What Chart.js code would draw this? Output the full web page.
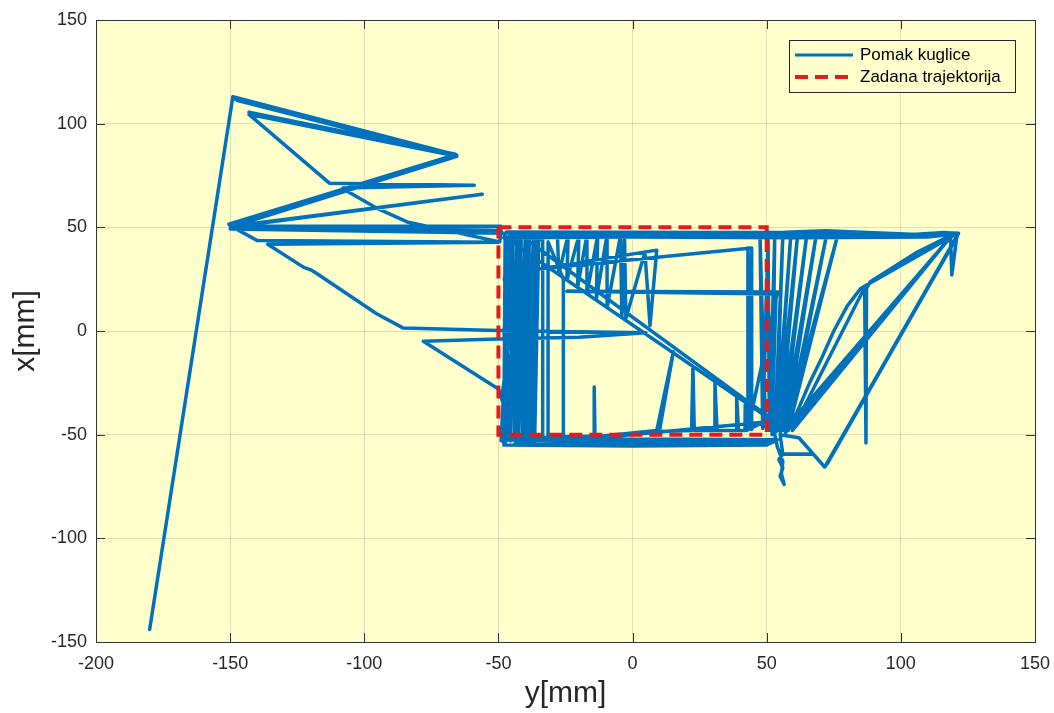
<!DOCTYPE html>
<html>
<head>
<meta charset="utf-8">
<title>Pomak kuglice</title>
<script src="https://cdn.jsdelivr.net/npm/chart.js@4.4.1/dist/chart.umd.min.js"></script>
<style>
  html, body { margin: 0; padding: 0; background: #fff; }
  canvas { display: block; }
</style>
</head>
<body>
<canvas id="plot" width="1054" height="713"></canvas>
<script>
// ----- DATA -----
const xTicks = [-200, -150, -100, -50, 0, 50, 100, 150];   // horizontal axis, y[mm]
const yTicks = [-150, -100, -50, 0, 50, 100, 150];          // vertical axis, x[mm]
const seriesNames = ['Pomak kuglice', 'Zadana trajektorija'];

// reference square, [y, x] in mm
const targetPath = [[-50, 50], [50, 50], [50, -50], [-50, -50], [-50, 50]];

const ballPath = [
  // launch and upper-left zigzags
  [-180,-144],[-149,113],[-66,85],[-148.5,112],[-66,84.3],[-147.5,111.3],[-65.5,84.8],
  [-143,105.5],[-66,85.3],[-142,104.5],[-65.8,84.4],[-143,104.5],
  [-113,71.3],[-59,70.3],[-108,69],[-106.5,67.5],[-95,59],[-84,52.6],[-49.5,43],
  [-49,48.5],[-150,50.5],[-66,85],[-150.5,51.5],[-65.5,84.2],[-149.5,50.2],[-56,66],
  [-149,50.6],[-49,50.5],[-150,49.2],[-48,47.2],[-150,50.8],[-140,43.7],[-50,42.8],
  [-136,41.8],[-122.7,30.8],[-120,29.5],[-118,28],[-95.4,8.3],[-85.6,1.5],[-50,0.3],
  [5,-0.8],[-20,-3],[-50,-3.8],[-78,-4.9],[-75.5,-7],[-50,-28],[-47.5,-38],[-48.5,-52.5],
  // left edge of the square
  [-46,46],[-47,30],[-45.5,18],[-47.5,5],[-46.5,-15],[-48,-52],[-44.5,46.5],[-45.5,-53],
  [-43,46],[-44,-52],[-41.5,46.5],[-42.5,-53.5],[-40,46],[-41,-52.5],[-38.5,45.5],
  [-39.5,-54],[-37,45],[-38,-53],[-46.5,40],[-47,-20],[-48,-54],
  [-47.5,44],[-46.5,35],[-47.8,25],[-46,12],[-48,0],[-47,-15],[-48.5,-30],[-47.5,-45],[-49,-53],
  [-45,46],[-46,30],[-44.5,10],[-46.5,-10],[-45.5,-30],[-47,-53],
  [-42.5,46],[-43.5,20],[-42,0],[-44,-30],[-43.5,-54],
  [-39,46],[-40.5,-53],[-36,45],[-37.5,-52.5],[-35,44],[-36.5,-53],[-44,-54.5],
  // bottom edge and short strokes
  [-20,-54.5],[10,-54],[40,-54.5],[53,-53],[30,-52.8],[-10,-53.2],[-47,-52.5],
  [-48,-55],[0,-55.5],[50,-55],[54,-52.5],[20,-52.2],[-47.5,-51.8],
  [-46,46.2],[-33.5,44],[-33.5,-52],[-31.5,-52],[-31.5,43],[-25.8,25],[-25.8,-51.5],
  [-14.3,-51],[-14.3,-27],[-14,-51],
  [9,-48],[15.2,-10],[10,-48.5],[22,-48],[22.5,-17],[23,-48],[30.7,-48],[30.7,-24.7],
  [31.5,-48],[38.8,-48],[38.8,-31.8],[39.5,-48],[41.9,-48],[42,-34],[42.5,-48],
  [48.7,-44],[-4.7,-50.5],[-48,-51.5],[-45,46.5],
  // top edge and right side
  [-20,46.8],[20,46.3],[50,46.8],[75,46.6],[100,46.2],[116,47.5],[121.5,47],
  [110,45.3],[60,45],[0,45.3],[-48,45],[-47,47.8],[30,47.5],[57,47.6],[72,48.4],[90,47.4],
  [106,46.6],[121.5,47.2],
  [72,-65],[121,45.5],[72.6,-64],[120.5,44.5],[71.6,-65.6],
  [62,-51.5],[55,-50],[56,-59.3],[67,-59.3],[56,-59.5],[54.5,-62],[56,-66],[55,-70],
  [56.5,-74],[55.5,-69],[56,-63],[54,-56],[53,-50],
  [56,46],[53.5,-48],[59,46.5],[54,-47],[61.5,46],[55,-49],[65,47],[56,-48],[68.5,46.5],
  [57,-49],[72.5,47.5],[58,-48],[76.5,46.5],[57,-47],
  [118,44.5],[59.5,-48],[86.5,21],[87,-54],[87.2,20.5],[88.5,23.6],[106,38],[118.5,46],
  [119,27],[121,47],[85,20.5],[80,12],[75,0],[70.5,-13],[66,-25],[61,-40],[57,-49],
  [117,43],[58,-47.5],
  [49.5,-46],[47.5,46],[48.5,-47],[50.5,45],[51,-48],[53,46],[52,-50],
  // diagonal and inner strokes
  [55,-47],[49,-40.5],[-43,41],[-45,45.5],
  [-28,46],[-27.5,27.5],[-24,46.5],[-24.5,24.5],[-20,46],[-20.5,21],[-17,46.5],[-17,18.3],
  [-13,46],[-13.5,15.5],[-9.5,46.5],[-9.5,11.3],[-4.5,46],[-4,7],[-3,46],[-2.5,6],
  [4.6,38],[6.5,2.6],[9,39],[-34.5,30],[44.4,40],[44.4,-47.5],[43,40],[43,-47.5],
  [54,18.8],[-24.5,19.2],[53.5,17.8],[52,-42.5],[-40,44.5],[-30,46.5],[40,46.5],[60,46]
];

// ----- STYLE -----
const FONT = "'Liberation Sans', Arial, sans-serif";
const plotBg = '#ffffcc';
const axisColor = '#333333';
const gridColor = 'rgba(38,38,38,0.15)';
const blue = '#0072bd';
const red = '#e8191c';
const tickLen = 9;

const toPts = arr => arr.map(p => ({ x: p[0], y: p[1] }));

// plot background, box, inward ticks and the legend (MATLAB look)
const matlabFrame = {
  id: 'matlabFrame',
  beforeDraw(chart) {
    const { ctx, chartArea: a } = chart;
    ctx.save();
    ctx.fillStyle = plotBg;
    ctx.fillRect(a.left, a.top, a.right - a.left, a.bottom - a.top);
    ctx.restore();
  },
  afterDraw(chart) {
    const { ctx, chartArea: a, scales } = chart;
    ctx.save();
    ctx.strokeStyle = axisColor;
    ctx.lineWidth = 1;
    ctx.beginPath();
    xTicks.forEach(v => {
      const px = Math.round(scales.x.getPixelForValue(v)) + 0.5;
      ctx.moveTo(px, a.bottom); ctx.lineTo(px, a.bottom - tickLen);
      ctx.moveTo(px, a.top); ctx.lineTo(px, a.top + tickLen);
    });
    yTicks.forEach(v => {
      const py = Math.round(scales.y.getPixelForValue(v)) + 0.5;
      ctx.moveTo(a.left, py); ctx.lineTo(a.left + tickLen, py);
      ctx.moveTo(a.right, py); ctx.lineTo(a.right - tickLen, py);
    });
    ctx.stroke();
    ctx.strokeRect(Math.round(a.left) + 0.5, Math.round(a.top) + 0.5,
      Math.round(a.right - a.left), Math.round(a.bottom - a.top));

    // legend box
    const lx = 789, ly = 40, lw = 226, lh = 52;
    ctx.fillStyle = plotBg;
    ctx.fillRect(lx, ly, lw, lh);
    ctx.strokeStyle = '#262626';
    ctx.strokeRect(lx + 0.5, ly + 0.5, lw, lh);
    const rows = [
      { y: ly + 15, color: blue, dash: [], name: seriesNames[0] },
      { y: ly + 37, color: red, dash: [13, 7], name: seriesNames[1] }
    ];
    ctx.font = '17px ' + FONT;
    ctx.textBaseline = 'middle';
    rows.forEach(r => {
      ctx.beginPath();
      ctx.strokeStyle = r.color;
      ctx.lineWidth = r.dash.length ? 4 : 3;
      ctx.setLineDash(r.dash);
      ctx.moveTo(lx + 6, r.y);
      ctx.lineTo(lx + 64, r.y);
      ctx.stroke();
      ctx.setLineDash([]);
      ctx.fillStyle = '#000';
      ctx.fillText(r.name, lx + 71, r.y);
    });
    ctx.restore();
  }
};

new Chart(document.getElementById('plot'), {
  type: 'scatter',
  data: {
    datasets: [
      {
        label: seriesNames[0],
        data: toPts(ballPath),
        showLine: true,
        borderColor: blue,
        borderWidth: 3.5,
        borderJoinStyle: 'round',
        borderCapStyle: 'round',
        pointRadius: 0,
        tension: 0,
        order: 1
      },
      {
        label: seriesNames[1],
        data: toPts(targetPath),
        showLine: true,
        borderColor: red,
        borderWidth: 4,
        borderDash: [13, 7],
        pointRadius: 0,
        tension: 0,
        order: 0
      }
    ]
  },
  options: {
    responsive: false,
    animation: false,
    layout: { padding: { left: 0, right: 19, top: 20, bottom: 0 } },
    plugins: { legend: { display: false }, tooltip: { enabled: false } },
    scales: {
      x: {
        type: 'linear',
        min: -200, max: 150,
        afterBuildTicks: s => { s.ticks = xTicks.map(v => ({ value: v })); },
        afterFit: s => { s.height = 71; s.paddingLeft = 0; s.paddingRight = 0; },
        grid: { color: gridColor, drawTicks: false },
        border: { display: false },
        ticks: { padding: 11, color: '#262626', font: { family: FONT, size: 18 } },
        title: {
          display: true, text: 'y[mm]', color: '#262626',
          font: { family: FONT, size: 30 }, padding: { top: 0, bottom: 1 }
        }
      },
      y: {
        type: 'linear',
        min: -150, max: 150,
        afterBuildTicks: s => { s.ticks = yTicks.map(v => ({ value: v })); },
        afterFit: s => { s.width = 96; s.paddingTop = 0; s.paddingBottom = 0; },
        grid: { color: gridColor, drawTicks: false },
        border: { display: false },
        ticks: { padding: 9, color: '#262626', font: { family: FONT, size: 18 } },
        title: {
          display: true, text: 'x[mm]', color: '#262626',
          font: { family: FONT, size: 30 }, padding: { top: 8, bottom: 0 }
        }
      }
    }
  },
  plugins: [matlabFrame]
});
</script>
</body>
</html>
